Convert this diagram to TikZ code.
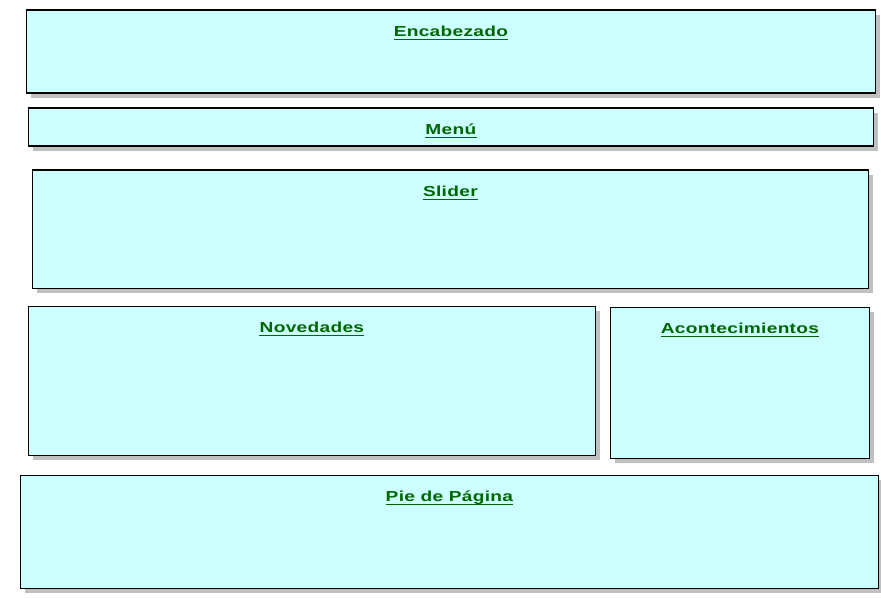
\documentclass[tikz,border=0pt]{standalone}
\usepackage{fontspec}
\usetikzlibrary{shadows,calc}
\newfontfamily\lblfont[FakeStretch=1.32,LetterSpace=2]{Liberation Sans}
\definecolor{boxfill}{RGB}{204,255,255}
\definecolor{lblgreen}{RGB}{0,102,0}
\definecolor{shadowgray}{RGB}{192,192,192}
\tikzset{
  box/.style={draw=black, line width=1.8pt, fill=boxfill, anchor=north west, inner sep=0pt,
    drop shadow={shadow xshift=5pt, shadow yshift=-5pt, fill=shadowgray, draw=none, opacity=1}},
  lbl/.style={text=lblgreen, anchor=base, inner sep=0pt, font=\lblfont\bfseries\fontsize{14.5}{16}\selectfont},
  uline/.style={draw=lblgreen, line width=1.3pt}
}
\newcommand\boxlabel[3]{%
  \node[lbl] (#1) at ($(#2.north)+(0,27)$) {#3};
  \draw[uline] ($(#1.base west)+(0,3)$) -- ($(#1.base east)+(0,3)$);
}
\begin{document}
\begin{tikzpicture}[x=1pt,y=-1pt]
\useasboundingbox (0,0) rectangle (881,599);
\node[box, minimum width=849pt, minimum height=83pt] (enc) at (25.5,9.5) {};
\node[box, minimum width=845pt, minimum height=38pt] (menu) at (27.5,107.5) {};
\node[box, minimum width=836pt, minimum height=118pt] (slider) at (31.5,169.5) {};
\node[box, minimum width=567pt, minimum height=149pt] (nov) at (27.5,305.5) {};
\node[box, minimum width=259pt, minimum height=151pt] (acon) at (609.5,306.5) {};
\node[box, minimum width=858pt, minimum height=113pt] (pie) at (19.5,474.5) {};
\boxlabel{encl}{enc}{Encabezado}
\boxlabel{menul}{menu}{Menú}
\boxlabel{sliderl}{slider}{Slider}
\boxlabel{novl}{nov}{Novedades}
\boxlabel{aconl}{acon}{Acontecimientos}
\boxlabel{piel}{pie}{Pie de Página}
\end{tikzpicture}
\end{document}
